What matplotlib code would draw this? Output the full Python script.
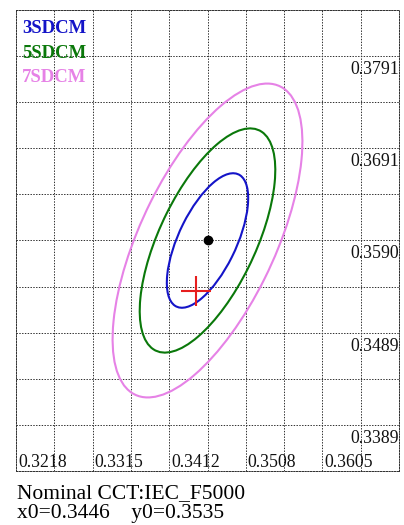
import matplotlib
matplotlib.use("Agg")
import matplotlib.pyplot as plt
from matplotlib.patches import Ellipse
import numpy as np

# ---- data ----
center_x = 0.3460          # measured chromaticity (black dot / grid centre)
center_y = 0.3590
nominal_x0 = 0.3446        # nominal IEC_F5000 point (red cross)
nominal_y0 = 0.3535
nominal_name = "IEC_F5000"
sdcm_steps = [3, 5, 7]
sdcm_labels = ["3SDCM", "5SDCM", "7SDCM"]
sdcm_colors = ["#1414C8", "#0A780A", "#E682E6"]
ellipse_a1 = 0.00274       # 1-step semi-major axis
ellipse_b1 = 0.00119       # 1-step semi-minor axis
ellipse_theta = 60.0       # degrees
x_step = 0.004843
y_step = 0.00503
x_tick_labels = ["0.3218", "0.3315", "0.3412", "0.3508", "0.3605"]
y_tick_labels = ["0.3791", "0.3691", "0.3590", "0.3489", "0.3389"]

W, H = 404, 525
fig = plt.figure(figsize=(W / 100, H / 100), dpi=100)
ax = fig.add_axes([16 / W, 1 - 471 / H, (399 - 16) / W, (471 - 10) / H])

serif = ["Liberation Serif", "DejaVu Serif"]

ks = np.arange(-5, 6)
xgrid = center_x + ks * x_step
ygrid = center_y + ks * y_step
ax.set_xlim(xgrid[0], xgrid[-1])
ax.set_ylim(ygrid[0], ygrid[-1])
ax.set_xticks(xgrid)
ax.set_yticks(ygrid)
ax.tick_params(length=0, labelbottom=False, labelleft=False)
dot = (0, (1.4, 1.4))
ax.grid(True, linestyle=dot, color="#333333", linewidth=0.72)
for s in ax.spines.values():
    s.set_linestyle(dot)
    s.set_color("#333333")
    s.set_linewidth(0.72)

for n, c in zip(sdcm_steps, sdcm_colors):
    e = Ellipse((center_x, center_y), width=2 * ellipse_a1 * n, height=2 * ellipse_b1 * n,
                angle=ellipse_theta, fill=False, edgecolor=c, linewidth=1.5, zorder=3)
    ax.add_patch(e)

ax.plot([center_x], [center_y], "o", color="black", markersize=6, zorder=4)
ax.plot([nominal_x0], [nominal_y0], "+", color="#E61E1E", markersize=21,
        markeredgewidth=1.5, zorder=4)

# in-plot axis labels
for lbl in x_tick_labels:
    ax.annotate(lbl, xy=(float(lbl), ygrid[0]), xytext=(2, 4), textcoords="offset pixels",
                ha="left", va="baseline", fontsize=12.8, family=serif, color="#111111")
for lbl in y_tick_labels:
    ax.annotate(lbl, xy=(xgrid[-1], float(lbl)), xytext=(0, -5), textcoords="offset pixels",
                ha="right", va="top", fontsize=12.8, family=serif, color="#111111")

# legend texts
for i, (lbl, c) in enumerate(zip(sdcm_labels, sdcm_colors)):
    fig.text(22 / W, 1 - (33 + i * 24.5) / H, lbl, color=c, fontsize=13.5,
             fontweight="bold", family=serif, ha="left", va="baseline")

fig.text(17 / W, 1 - 498 / H, "Nominal CCT:" + nominal_name, fontsize=15.5,
         family=serif, ha="left", va="baseline", color="black")
fig.text(17 / W, 1 - 518 / H, f"x0={nominal_x0:.4f}    y0={nominal_y0:.4f}", fontsize=15.5,
         family=serif, ha="left", va="baseline", color="black")

fig.savefig("out.png", dpi=100)
